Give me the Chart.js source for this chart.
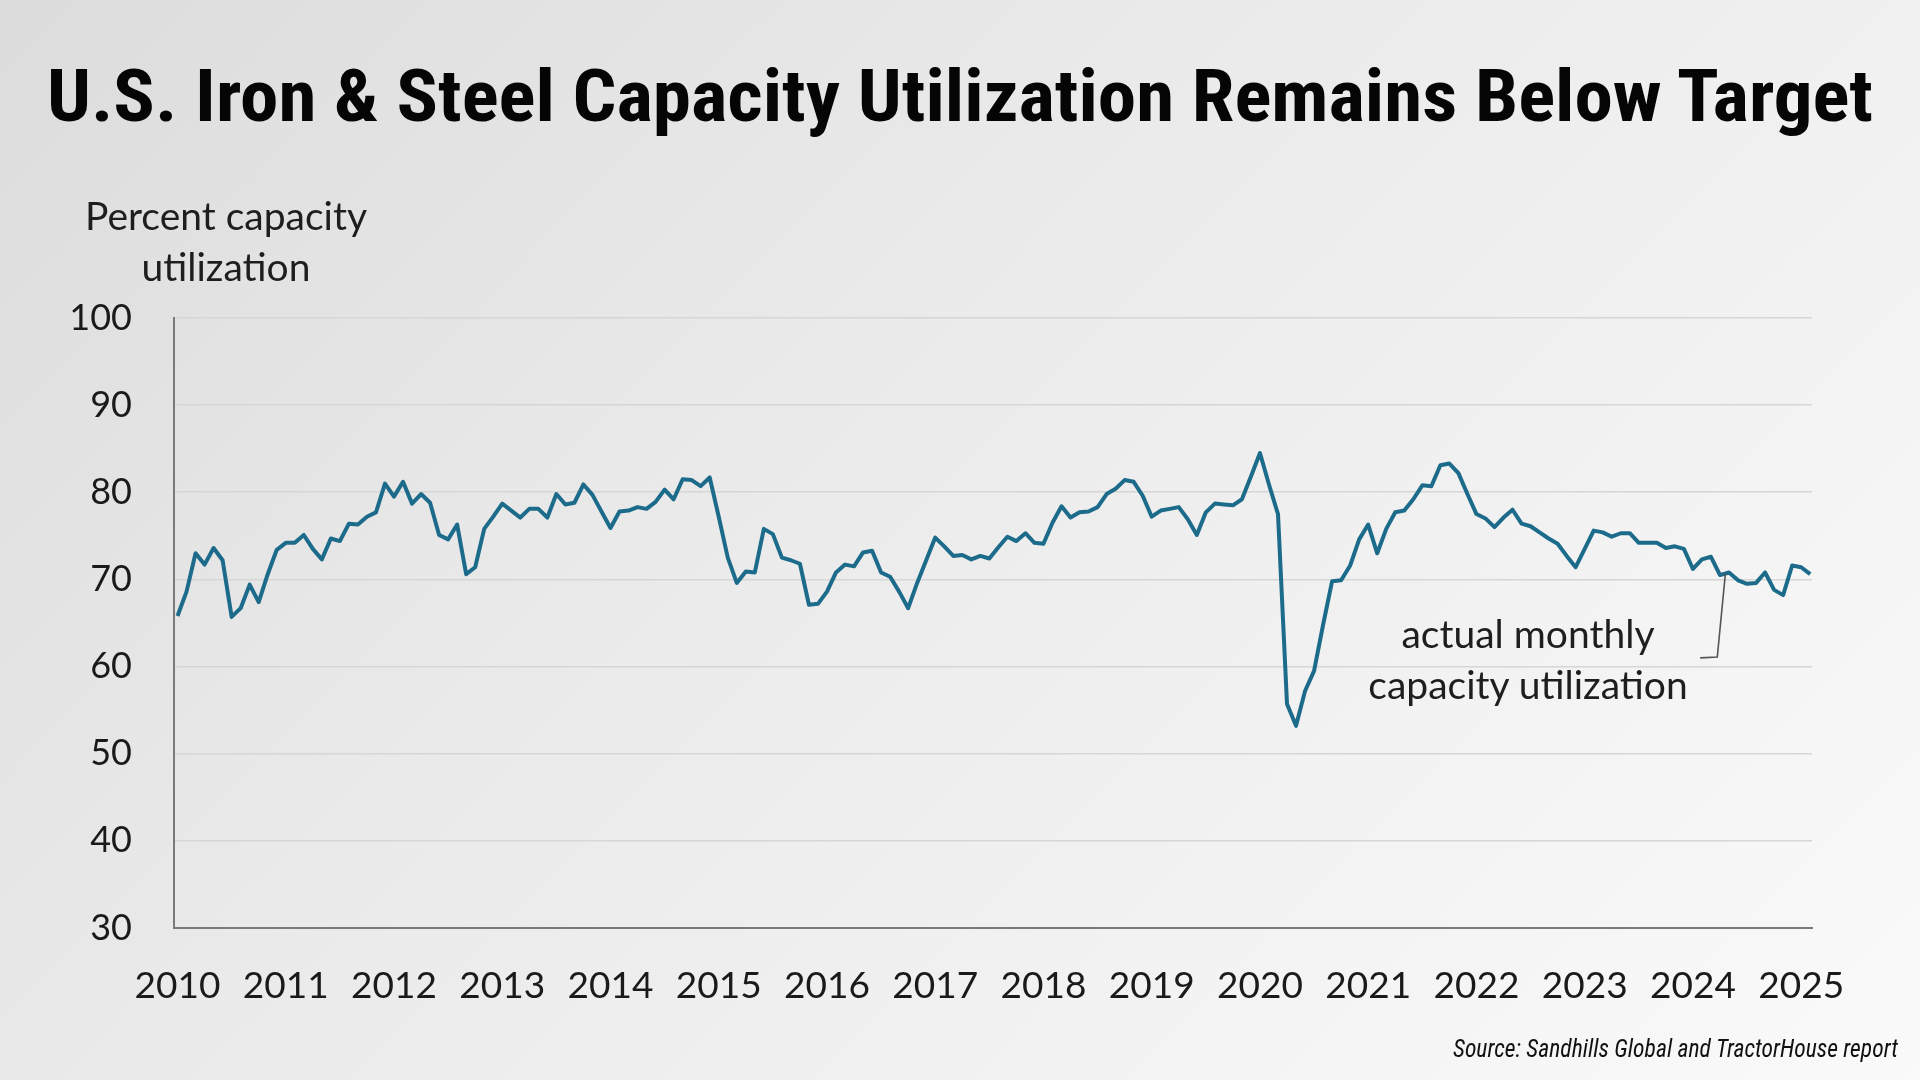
<!DOCTYPE html>
<html lang="en">
<head>
<meta charset="utf-8">
<title>U.S. Iron & Steel Capacity Utilization</title>
<script src="https://cdn.jsdelivr.net/npm/chart.js@4.4.1/dist/chart.umd.min.js"></script>
<style>
    html, body { margin: 0; padding: 0; }
    body {
        width: 1920px;
        height: 1080px;
        position: relative;
        overflow: hidden;
        background: linear-gradient(135deg, #dcdcdc 0%, #eaeaea 40%, #f2f2f2 70%, #fafafa 100%);
    }
    #grafico { position: absolute; left: 0; top: 0; }
    .texto { position: absolute; white-space: nowrap; line-height: 1; }
    #titulo {
        left: 47px; top: 61px;
        font-family: "Roboto Condensed", Roboto, "Liberation Sans Narrow", sans-serif;
        font-weight: 700; font-size: 72px; color: #050505;
        transform-origin: left top;
    }
    #eixoY {
        left: 226px; top: 190px;
        font-family: Lato, "Open Sans", sans-serif;
        font-size: 39px; color: #1e1e1e; text-align: center;
        transform: translateX(-50%); line-height: 1.3;
    }
    #anotacao {
        left: 1528px; top: 608px;
        font-family: Lato, "Open Sans", sans-serif;
        font-size: 39px; color: #1e1e1e; text-align: center;
        transform: translateX(-50%); line-height: 1.3;
    }
    #fonte {
        left: 1453px; top: 1036px;
        font-family: "Roboto Condensed", Roboto, sans-serif;
        font-style: italic; font-size: 25px; color: #111;
        transform-origin: left top;
    }
</style>
</head>
<body>
<canvas id="grafico" width="1920" height="1080"></canvas>
<div class="texto" id="titulo">U.S. Iron &amp; Steel Capacity Utilization Remains Below Target</div>
<div class="texto" id="eixoY">Percent capacity<br>utilization</div>
<div class="texto" id="anotacao">actual monthly<br>capacity utilization</div>
<div class="texto" id="fonte">Source: Sandhills Global and TractorHouse report</div>

<script>
/* Dados: utilização mensal (%), jan/2010 a fev/2025 */
const anos = ["2010", "2011", "2012", "2013", "2014", "2015", "2016", "2017",
    "2018", "2019", "2020", "2021", "2022", "2023", "2024", "2025"];

const utilizacao = [
    // 2010
    65.8, 68.6, 73.0, 71.7, 73.6, 72.2, 65.7, 66.7, 69.4, 67.4, 70.6, 73.4,
    // 2011
    74.2, 74.2, 75.1, 73.5, 72.3, 74.7, 74.4, 76.4, 76.3, 77.2, 77.7, 81.0,
    // 2012
    79.5, 81.2, 78.7, 79.8, 78.8, 75.1, 74.6, 76.3, 70.6, 71.4, 75.8, 77.2,
    // 2013
    78.7, 77.9, 77.1, 78.1, 78.1, 77.1, 79.8, 78.6, 78.8, 80.9, 79.7, 77.8,
    // 2014
    75.9, 77.8, 77.9, 78.3, 78.1, 78.9, 80.3, 79.2, 81.5, 81.4, 80.7, 81.7,
    // 2015
    77.2, 72.5, 69.6, 70.9, 70.8, 75.8, 75.2, 72.5, 72.2, 71.8, 67.1, 67.2,
    // 2016
    68.6, 70.8, 71.7, 71.5, 73.1, 73.3, 70.8, 70.3, 68.6, 66.7, 69.6, 72.2,
    // 2017
    74.8, 73.8, 72.7, 72.8, 72.3, 72.7, 72.4, 73.7, 74.9, 74.4, 75.3, 74.2,
    // 2018
    74.1, 76.5, 78.4, 77.1, 77.7, 77.8, 78.3, 79.8, 80.4, 81.4, 81.2, 79.6,
    // 2019
    77.2, 77.9, 78.1, 78.3, 76.9, 75.1, 77.7, 78.7, 78.6, 78.5, 79.2, 81.8,
    // 2020
    84.5, 80.9, 77.5, 55.7, 53.2, 57.2, 59.5, 64.8, 69.8, 69.9, 71.6, 74.6,
    // 2021
    76.3, 73.0, 75.8, 77.7, 77.9, 79.2, 80.8, 80.7, 83.1, 83.3, 82.2, 79.8,
    // 2022
    77.5, 77.0, 76.0, 77.1, 78.0, 76.4, 76.1, 75.4, 74.7, 74.1, 72.7, 71.4,
    // 2023
    73.5, 75.6, 75.4, 74.9, 75.3, 75.3, 74.2, 74.2, 74.2, 73.6, 73.8, 73.5,
    // 2024
    71.2, 72.3, 72.6, 70.5, 70.8, 69.9, 69.5, 69.6, 70.8, 68.8, 68.2, 71.6,
    // 2025
    71.4, 70.6
];

// Marcas do eixo Y (percentual)
const ticksY = [30, 40, 50, 60, 70, 80, 90, 100];

// Ponto onde a linha da anotação encosta na série, e o seu cotovelo (mês, valor)
const linhaAnotacao = [[171.6, 70.7], [170.7, 61.1], [168.8, 61.0]];

/* Monta os pontos (índice do mês, valor) */
const pontos = utilizacao.map((valor, i) => ({ x: i, y: valor }));

/* Plugin que desenha a linha fina ligando a anotação à série */
const pluginAnotacao = {
    id: "linhaAnotacao",
    afterDatasetsDraw(chart) {
        const { ctx, scales } = chart;
        ctx.save();
        ctx.strokeStyle = "#555555";
        ctx.lineWidth = 1.6;
        ctx.beginPath();
        linhaAnotacao.forEach(([mes, valor], i) => {
            const px = scales.x.getPixelForValue(mes);
            const py = scales.y.getPixelForValue(valor);
            if (i === 0) ctx.moveTo(px, py); else ctx.lineTo(px, py);
        });
        ctx.stroke();
        ctx.restore();
    },
};

const ctxGrafico = document.getElementById("grafico").getContext("2d");
new Chart(ctxGrafico, {
    type: "line",
    data: {
        datasets: [{
            label: "actual monthly capacity utilization",
            data: pontos,
            borderColor: "#1d6b8b",
            borderWidth: 4,
            pointRadius: 0,
            tension: 0,
            fill: false,
            borderJoinStyle: "round",
        }],
    },
    options: {
        responsive: false,
        animation: false,
        devicePixelRatio: 1,
        layout: { padding: { left: 0, top: 318, right: 108, bottom: 0 } },
        plugins: {
            legend: { display: false },
            tooltip: { enabled: false },
            title: { display: false },
        },
        scales: {
            x: {
                type: "linear",
                min: -0.39,
                max: 181.2,
                // Uma marca a cada janeiro
                afterBuildTicks: (escala) => {
                    escala.ticks = anos.map((_, k) => ({ value: k * 12 }));
                },
                afterFit: (escala) => { escala.height = 152; },
                ticks: {
                    autoSkip: false,
                    maxRotation: 0,
                    padding: 36,
                    color: "#1a1a1a",
                    font: { family: "Lato, 'Open Sans', sans-serif", size: 37 },
                    callback: (valor) => anos[Math.round(valor / 12)],
                },
                grid: { display: false, drawTicks: false },
                border: { color: "#7a7a7a", width: 2 },
            },
            y: {
                min: 30,
                max: 100,
                afterBuildTicks: (escala) => {
                    escala.ticks = ticksY.map((v) => ({ value: v }));
                },
                afterFit: (escala) => { escala.width = 174; },
                ticks: {
                    padding: 42,
                    color: "#1a1a1a",
                    font: { family: "Lato, 'Open Sans', sans-serif", size: 36 },
                },
                grid: { color: "#d6d6d6", lineWidth: 1.6, drawTicks: false },
                border: { color: "#7a7a7a", width: 2 },
            },
        },
    },
    plugins: [pluginAnotacao],
});

/* Ajusta a largura dos textos condensados para bater com a referência */
function ajustarLargura(id, largura) {
    const el = document.getElementById(id);
    const w = el.getBoundingClientRect().width;
    el.style.transform = `scaleX(${largura / w})`;
}
ajustarLargura("titulo", 1826);
ajustarLargura("fonte", 445);
</script>
</body>
</html>
